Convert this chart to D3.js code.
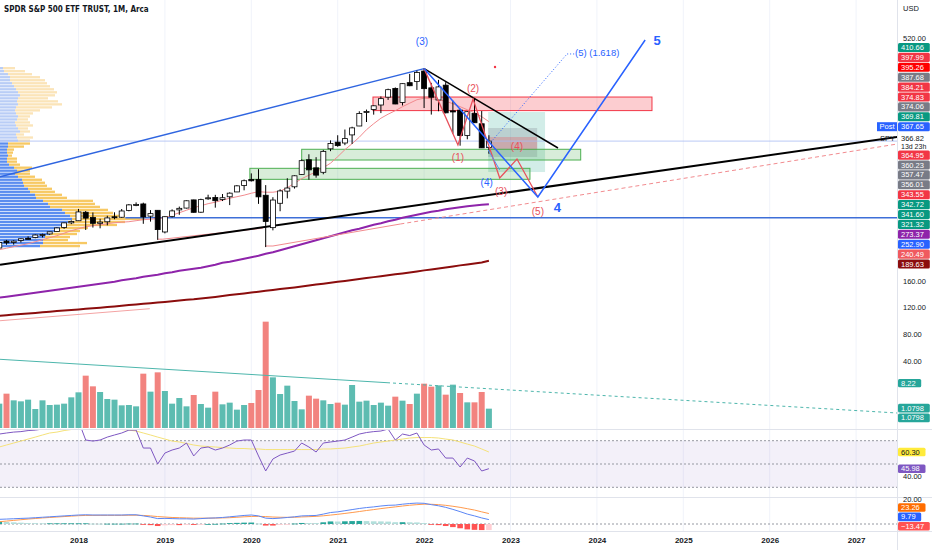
<!DOCTYPE html>
<html>
<head>
<meta charset="utf-8">
<script src="https://cdn.jsdelivr.net/npm/d3@7"></script>
<style>
  body { margin: 0; background: #ffffff; }
  svg { display: block; font-family: 'Liberation Sans', Arial, sans-serif; }
</style>
</head>
<body>
<svg id="chart" width="932" height="550"></svg>
<script>
'use strict';

// Monthly candles, Feb 2017 .. Oct 2022 (index 0 = 2017-02), dividend adjusted
var openPrices = [208.4,218.6,216.6,219.6,222.8,224.0,228.4,229.3,232.9,238.9,
    245.7,248.8,261.4,253.6,245.0,247.3,254.7,254.0,264.1,272.1,
    273.7,255.6,264.3,232.2,255.3,264.9,267.6,279.7,261.5,282.2,
    283.3,280.2,284.3,291.5,301.1,309.9,310.1,286.6,238.6,274.7,
    292.7,299.1,317.5,339.2,327.2,320.6,355.4,365.2,364.0,376.0,
    389.2,410.2,413.7,420.3,431.9,444.9,424.1,453.4,455.1,470.6,
    445.7,427.7,449.7,411.7,412.7,375.1,408.0,392.5,357.2];
var highPrices = [217.4,220.4,219.9,222.7,225.6,228.5,229.7,232.5,238.9,245.9,
    249.3,266.3,263.3,261.1,251.8,256.2,261.3,266.2,273.6,276.0,
    275.6,264.6,264.4,255.4,265.7,269.8,278.9,280.0,281.5,287.4,
    287.2,288.4,290.9,301.6,309.9,319.0,325.2,301.6,283.7,295.4,
    311.8,316.1,339.7,347.3,343.0,353.8,367.9,375.5,384.0,388.1,
    411.0,413.5,419.8,433.0,444.5,446.3,452.3,466.4,471.2,474.2,
    453.1,457.5,454.1,426.7,414.9,411.3,430.4,411.3,375.5];
var lowPrices = [207.7,213.2,213.4,216.6,221.0,222.9,224.1,228.2,232.7,236.9,
    243.8,248.4,235.2,238.7,237.6,242.0,251.0,253.0,262.8,270.4,
    244.3,247.5,220.5,230.1,253.7,257.7,267.0,260.9,260.5,279.9,
    268.2,278.0,272.0,291.3,293.9,306.9,273.8,209.8,234.6,262.9,
    282.0,296.5,316.9,309.6,312.6,317.7,351.9,358.4,360.8,362.6,
    389.0,395.1,406.0,408.3,427.8,421.5,419.6,448.2,442.6,415.8,
    406.1,411.0,407.9,377.8,360.0,369.5,393.8,356.6,348.1];
var closePrices = [216.6,216.1,218.6,222.1,222.7,227.7,228.4,232.4,238.2,245.7,
    247.7,261.9,252.7,245.0,246.8,253.0,253.7,263.3,272.3,273.0,
    254.4,259.4,235.7,254.8,263.4,267.2,278.4,261.3,280.1,282.8,
    278.5,282.9,289.7,300.5,308.1,308.0,284.2,247.7,279.5,293.0,
    297.3,315.4,337.8,324.2,316.4,351.6,363.4,360.1,370.5,386.4,
    407.7,410.8,419.1,429.7,443.0,421.8,451.9,448.8,468.4,444.5,
    431.8,447.1,408.7,410.0,375.0,410.4,394.0,356.8,366.8];
// volume, millions of shares
var volumes = [1217,1717,1383,1333,1417,950,1383,1150,1167,1217,
    1533,1783,2617,2083,1800,1450,1417,1133,1150,1083,
    2717,1817,2783,1850,1217,1500,1083,1650,1200,1017,
    1817,1183,1267,917,1150,1250,1900,5317,2533,1700,
    2117,1350,933,1617,1467,1383,1200,1267,1167,2150,
    1317,1367,1150,1267,1117,1567,1367,1200,1717,2217,
    2067,2133,1667,2167,1750,1283,1283,1800,967];
// moving averages drawn on price
var maShort = [205.9,208.1,210.4,212.6,214.8,217.8,220.7,223.7,226.7,230.4,
    234.1,237,240,241.5,243,244.4,245.9,246.7,247.4,248.9,
    250.4,251.1,251.9,253.3,257,260.7,264.4,268.1,271.1,274.1,
    276.3,279.3,282.2,284.4,286.7,289.6,291.9,291.1,291.1,292.6,
    297.8,304.4,311.1,316.3,321.5,327.4,334.1,343.7,354.1,363,
    372.6,383.7,392.6,400.7,406.7,411.9,417.8,423,428.1,430.4,
    429.6,428.1,425.9,422.2,417.8,413.3,408.9,403,395.6];
var maPurple = [134.8,136.3,137.8,139.3,140.7,142.2,143.7,145.2,146.7,148.1,
    149.6,151.1,152.6,154.1,155.6,157,158.5,160.7,162.2,163.7,
    165.9,167.4,168.9,171.1,172.6,174.8,176.3,177.8,179.3,181.5,
    183.7,186.7,188.1,190.4,192.6,194.8,197,200,202.2,205.2,
    208.1,211.1,214.1,217,220,223,225.9,228.9,231.9,234.8,
    237,240,243,245.2,248.1,250.4,253.3,255.6,257.8,260,
    262.2,263.7,265.9,267.4,268.9,270.4,271.3,272.4,273.4];
var maDarkRed = [108.1,108.9,109.8,110.7,111.4,112.3,113.2,114.1,115,115.7,
    116.6,117.5,118.4,119.1,120,121,121.9,123,123.9,124.9,
    125.8,126.7,127.7,128.6,129.6,130.5,131.6,132.4,133.5,134.8,
    136,137.3,138.7,139.9,141.2,142.5,143.7,145,146.2,147.6,
    148.9,150.1,151.4,152.9,154.2,155.6,157,158.4,159.7,161.2,
    162.5,163.9,165.3,166.7,168.1,169.5,170.8,172.3,173.8,175.3,
    176.7,178.2,179.7,181.2,182.7,184.1,185.6,187.1,189.6];
// RSI pane
var rsiValues = [75.7,76.6,77.4,77.8,78.7,79.1,80.0,81,83,85,
    85,87,70.6,69.7,70.6,73.1,74.9,76.6,79.1,79.1,
    63.7,63.7,50,59.4,62,63.7,68,56.9,63.7,64.6,
    62,63.7,66.3,69.7,70.6,70.6,56.9,44,54.3,57.7,
    59.4,61.1,68,64.6,60.3,68,68.9,69.7,70.6,73.1,
    75.7,77,77.8,78.3,80,70.6,75.7,74.4,76.6,66.3,
    62,62.9,55.1,55.1,47.4,55.1,52.6,44,45.98];
var rsiAverage = [64.6,66.3,68,69.7,71.4,73.1,74.9,76.6,77.4,78.7,
    79.6,80.4,80.9,80.9,80.4,80,80,79.6,79.1,78.3,
    76.6,74.9,73.1,71.4,69.7,68.9,67.6,66.3,65.4,65,
    64.6,64.1,63.7,63.3,63.3,62.9,62.9,62.4,62.4,62.4,
    62.4,62.4,62.4,62.4,62.4,62.9,62.9,63.3,63.7,64.6,
    65.4,66.7,68,68.9,69.7,70.6,71.4,72.3,72.7,72.7,
    72.7,72.3,71.4,70.6,68.9,67.1,65.4,62.9,60.3];
// MACD pane
var macdValues = [10.4,11,11.7,12.4,13,14,15,16,17,18,
    19,20,20.5,20,20,20,20,20,20.5,20.5,
    18,15.5,12,12.5,12,11.5,11.5,11,12,13,
    13.5,14.5,16,17.5,19,20,18,13,12,13,
    14.5,16,18,18.5,19,22,25.5,27,29.5,32,
    34.5,36.5,38,40,41.5,42,44,45.5,46.5,46,
    43,40.5,37,32.5,27.5,22,18,13.5,9.79];
var signalValues = [5,6.5,8,9.5,11,12.2,13.5,14.5,15.5,16.5,
    17.5,18.5,19,19.2,19.3,19.3,19.3,19.3,19.5,19.5,
    19,18,16.5,15.5,14.5,14,13.5,13,13,13,
    13.2,13.5,14,15,16,16.8,17,16.5,15.5,15,
    14.8,15,15.7,16.3,17,18.2,19.8,21.5,23.5,25.5,
    27.7,30,32,34.2,36.2,38,40,41.7,43,44,
    43.8,43,41.5,39.4,37,34,31,27,23.26];
var histValues = [5.4,4.5,3.7,2.9,2,1.8,1.5,1.5,1.5,1.5,
    1.5,1.5,1.5,0.8,0.7,0.7,0.7,0.7,1,1,
    -1,-2.5,-4.5,-3,-2.5,-2.5,-2,-2,-1,0,
    0.3,1,2,2.5,3,3.2,1,-3.5,-3.5,-2,
    -0.3,1,2.3,2.2,2,3.8,5.7,5.5,6,6.5,
    6.8,6.5,6,5.8,5.3,4,4,3.8,3.5,2,
    -0.8,-2.5,-4.5,-6.9,-9.5,-12,-13,-13.5,-13.47];
// visible range volume profile, rows from top price to bottom price
var profileHigh = 477;
var profileLow = 209;
var valueAreaHigh = 366;
var profileUp = [3,4,8,10,10,12,14,16,18,20, 18,17,18,16,15,16,18,17,15,16,
    18,20,16,17,18,8,8,7,7,8, 7,7,9,14,17,15,18,22,23,24,
    28,30,35,36,43,48,50,62,65,70, 72,68,66,60,55,50,45,43,43,40];
var profileDown = [12,21,24,30,35,35,36,38,39,35, 30,41,44,36,25,17,12,11,15,17,
    10,10,8,16,12,22,16,7,6,4, 10,10,11,18,13,15,17,20,22,23,
    24,25,27,31,50,47,50,46,48,55, 73,57,51,28,25,27,25,25,44,40];
// time axis
var yearLabels = ['2018','2019','2020','2021','2022','2023','2024','2025','2026','2027'];
var yearIndex = [11,23,35,47,59,71,83,95,107,119];

// drawings: [month index, price]
var blueTrend = [[0.1, 313.9], [59, 474.2]];
var blackFromTop = [[59, 474.2], [77.6, 356.6]];
var blackSupport = [[0.1, 183.6], [124.7, 373]];
var pinkSupport2018 = [[22, 221.5], [22.7, 221.5], [36.6, 237.8]];
var pinkSupport2020 = [[36.9, 211.4], [38, 211.4], [55.7, 244]];
var pinkSupportExt = [[55.7, 244], [124.7, 362.5]];
var pinkOld = [[0.1, 100.7], [20.9, 118.5]];
var blueLevel = [[17.5, 253.3], [124.7, 253.3]];
var lastPrice = 366.82;
var redWave = [[59, 474.2], [63.7, 361], [65.8, 429.2], [69.5, 312.1], [71.9, 340.3], [74.8, 284]];
var blueWave = [[59, 474.2], [74.8, 284], [89.7, 516.6]];
var blueProjection = [[67.7, 358.1], [78.85, 495.9], [80, 495.9]];
var blueSubWave = [[67.9, 353.7], [69.5, 324.1]];
var redDot = [68.85, 476.6];
var redZone = [51.9, 90.65, 412.0, 432.1];
var greenZones = [[42, 80.75, 338.8, 354.7], [34.8, 73.7, 310.2, 326.5]];
var positionTeal = [67.9, 75.8, 321.0, 409.9];
var positionGrey = [67.9, 74.7, 343.3, 386.2];
var positionRed = [67.9, 74.7, 353.6, 372.9];
var volumeTrend = [[0.1, 3435], [53.85, 2265]];
var volumeTrendExt = [[53.85, 2265], [124.7, 750]];
var waveLabels = [
    {text: '(3)', m: 58.7, p: 513.8, color: '#2962ff'},
    {text: '(1)', m: 63.7, p: 341.8, color: '#e8505b'},
    {text: '(2)', m: 65.8, p: 444, color: '#e8505b'},
    {text: '(3)', m: 69.7, p: 291.6, color: '#e8505b'},
    {text: '(4)', m: 71.9, p: 358.1, color: '#e8505b'},
    {text: '(5)', m: 74.8, p: 261.8, color: '#e8505b'},
    {text: '(4)', m: 67.7, p: 304.6, color: '#2962ff'}
];
var bigLabels = [{text: '4', m: 77.5, p: 267.6}, {text: '5', m: 91.35, p: 513.8}];
var fibLabel = {text: '(5) (1.618)', m: 79.96, p: 495.9};

// price scale badges
var priceBadges = [
    {v: 410.66, c: '#089981'}, {v: 397.99, c: '#f23645'}, {v: 395.26, c: '#ff0000'},
    {v: 387.68, c: '#787b86'}, {v: 384.21, c: '#f23645'}, {v: 374.83, c: '#f23645'},
    {v: 374.06, c: '#787b86'}, {v: 369.81, c: '#089981'}, {v: 367.65, c: '#2962ff', post: true},
    {v: 366.82, last: true},
    {v: 364.95, c: '#f23645'}, {v: 360.23, c: '#787b86'}, {v: 357.47, c: '#787b86'},
    {v: 356.01, c: '#787b86'}, {v: 343.55, c: '#f23645'}, {v: 342.72, c: '#089981'},
    {v: 341.60, c: '#089981'}, {v: 321.32, c: '#089981'}, {v: 273.37, c: '#8e24aa'},
    {v: 252.90, c: '#2962ff'}, {v: 240.49, c: '#f05a5f'}, {v: 189.63, c: '#8b0d0d'}
];

var width = 932;
var plotRight = 897;
var mainBottom = 429;
var rsiBottom = 497;
var macdBottom = 531;
var n = closePrices.length;

var svg = d3.select('#chart');

var x = d3.scaleLinear().domain([0, 119]).range([-0.7, 856.1]);
var y = d3.scaleLinear().domain([160, 520]).range([280.7, 37.7]);
var yVol = d3.scaleLinear().domain([0, 5400]).range([428, 320]);
var yVolAxis = d3.scaleLinear().domain([0, 120]).range([388.7, 307.3]);
var yRsi = d3.scaleLinear().domain([30, 70]).range([487.3, 440.7]);
var yMacd = d3.scaleLinear().domain([0, 40]).range([524, 506]);
var xProfile = d3.scaleLinear().domain([0, 100]).range([0, 100]);

var lineXY = d3.line().x(function(d) { return x(d[0]); }).y(function(d) { return y(d[1]); });
var lineVol = d3.line().x(function(d) { return x(d[0]); }).y(function(d) { return yVol(d[1]); });

/**
 * Series line helper, one value per month
 */
var seriesLine = function(scale) {
    return d3.line().x(function(d, i) { return x(i); }).y(function(d) { return scale(d); });
};

// clip paths for panes
var defs = svg.append('defs');
[['clipMain', 0, mainBottom], ['clipRsi', mainBottom, rsiBottom], ['clipMacd', rsiBottom, macdBottom]]
    .forEach(function(c) {
        defs.append('clipPath').attr('id', c[0]).append('rect')
            .attr('x', 0).attr('y', c[1]).attr('width', plotRight).attr('height', c[2] - c[1]);
    });

// year grid
svg.append('g').selectAll('line').data(yearIndex).enter().append('line')
    .attr('x1', function(d) { return x(d); }).attr('x2', function(d) { return x(d); })
    .attr('y1', 0).attr('y2', macdBottom)
    .style('stroke', '#f0f3fa').style('stroke-width', 1);

var main = svg.append('g').attr('clip-path', 'url(#clipMain)');

// volume
main.append('g').selectAll('rect').data(volumes).enter().append('rect')
    .attr('x', function(d, i) { return x(i) - 3; })
    .attr('width', 6)
    .attr('y', function(d) { return yVol(d); })
    .attr('height', function(d) { return yVol(0) - yVol(d); })
    .style('fill', function(d, i) {
        return (i === 0 || closePrices[i] >= closePrices[i - 1]) ? '#5dbcb1' : '#f2837f';
    });
main.append('path').datum(volumeTrend).attr('d', lineVol)
    .style('fill', 'none').style('stroke', '#4db6ac').style('stroke-width', 1);
main.append('path').datum(volumeTrendExt).attr('d', lineVol)
    .style('fill', 'none').style('stroke', '#4db6ac').style('stroke-width', 1)
    .style('stroke-dasharray', '3,3');

// volume profile
var rowStep = (profileHigh - profileLow) / profileUp.length;
var profile = main.append('g');
profileUp.forEach(function(up, i) {
    var top = profileHigh - i * rowStep;
    var yTop = y(top) + 0.3;
    var h = y(top - rowStep) - y(top) - 0.7;
    var inValue = (top - rowStep / 2) <= valueAreaHigh;
    profile.append('rect')
        .attr('x', 0).attr('y', yTop).attr('width', xProfile(up)).attr('height', h)
        .style('fill', inValue ? '#5b8def' : '#b9cdf6');
    profile.append('rect')
        .attr('x', xProfile(up)).attr('y', yTop).attr('width', xProfile(profileDown[i])).attr('height', h)
        .style('fill', inValue ? '#f7c964' : '#fbe4b8');
});

// zones
var zoneRect = function(z, fill, stroke) {
    main.append('rect')
        .attr('x', x(z[0])).attr('y', y(z[3]))
        .attr('width', x(z[1]) - x(z[0])).attr('height', y(z[2]) - y(z[3]))
        .style('fill', fill).style('stroke', stroke || 'none').style('stroke-width', 1);
};
zoneRect(positionTeal, 'rgba(8,153,129,0.18)');
zoneRect(positionGrey, 'rgba(120,123,134,0.25)');
zoneRect(positionRed, 'rgba(242,54,69,0.25)');
zoneRect(redZone, 'rgba(242,54,69,0.25)', '#f23645');
greenZones.forEach(function(z) { zoneRect(z, 'rgba(76,175,80,0.22)', '#4caf50'); });

// horizontal lines
main.append('line')
    .attr('x1', 0).attr('x2', plotRight).attr('y1', y(lastPrice)).attr('y2', y(lastPrice))
    .style('stroke', '#a9bdf3').style('stroke-width', 0.8);
main.append('path').datum(blueLevel).attr('d', lineXY)
    .style('fill', 'none').style('stroke', '#3e6fd8').style('stroke-width', 1.6);

// moving averages
main.append('path').datum(maDarkRed).attr('d', seriesLine(y))
    .style('fill', 'none').style('stroke', '#8b0d0d').style('stroke-width', 2);
main.append('path').datum(pinkOld).attr('d', lineXY)
    .style('fill', 'none').style('stroke', '#f4a3a3').style('stroke-width', 1);
main.append('path').datum(maPurple).attr('d', seriesLine(y))
    .style('fill', 'none').style('stroke', '#8e24aa').style('stroke-width', 2);
main.append('path').datum(maShort).attr('d', seriesLine(y))
    .style('fill', 'none').style('stroke', '#f28b8f').style('stroke-width', 1);

// trend lines
[pinkSupport2018, pinkSupport2020].forEach(function(l) {
    main.append('path').datum(l).attr('d', lineXY)
        .style('fill', 'none').style('stroke', '#f28b8f').style('stroke-width', 1);
});
main.append('path').datum(pinkSupportExt).attr('d', lineXY)
    .style('fill', 'none').style('stroke', '#f28b8f').style('stroke-width', 1)
    .style('stroke-dasharray', '4,3');
main.append('path').datum(blackSupport).attr('d', lineXY)
    .style('fill', 'none').style('stroke', '#000').style('stroke-width', 2);
main.append('path').datum(blueTrend).attr('d', lineXY)
    .style('fill', 'none').style('stroke', '#2f65e0').style('stroke-width', 1.5);

// candles
var candles = main.append('g').selectAll('g').data(d3.range(n)).enter().append('g');
candles.append('line')
    .attr('x1', function(i) { return x(i); }).attr('x2', function(i) { return x(i); })
    .attr('y1', function(i) { return y(highPrices[i]); })
    .attr('y2', function(i) { return y(lowPrices[i]); })
    .style('stroke', '#000').style('stroke-width', 1);
candles.append('rect')
    .attr('x', function(i) { return x(i) - 2.5; })
    .attr('width', 5)
    .attr('y', function(i) { return y(Math.max(openPrices[i], closePrices[i])); })
    .attr('height', function(i) {
        return Math.max(1, Math.abs(y(openPrices[i]) - y(closePrices[i])));
    })
    .style('fill', function(i) { return closePrices[i] >= openPrices[i] ? '#ffffff' : '#000000'; })
    .style('stroke', '#000').style('stroke-width', 0.8);

// wave drawings
main.append('path').datum(blackFromTop).attr('d', lineXY)
    .style('fill', 'none').style('stroke', '#000').style('stroke-width', 1.5);
main.append('path').datum(redWave).attr('d', lineXY)
    .style('fill', 'none').style('stroke', '#e8505b').style('stroke-width', 1.3);
main.append('path').datum(blueWave).attr('d', lineXY)
    .style('fill', 'none').style('stroke', '#2962ff').style('stroke-width', 1.5);
main.append('path').datum(blueSubWave).attr('d', lineXY)
    .style('fill', 'none').style('stroke', '#5a8cf0').style('stroke-width', 1);
main.append('path').datum(blueProjection).attr('d', lineXY)
    .style('fill', 'none').style('stroke', '#2962ff').style('stroke-width', 1)
    .style('stroke-dasharray', '1,2');
main.append('circle').attr('cx', x(redDot[0])).attr('cy', y(redDot[1])).attr('r', 1.2)
    .style('fill', '#f23645');

main.selectAll('text.wave').data(waveLabels).enter().append('text')
    .attr('class', 'wave')
    .attr('x', function(d) { return x(d.m); }).attr('y', function(d) { return y(d.p); })
    .attr('text-anchor', 'middle').attr('dominant-baseline', 'middle')
    .style('font-size', '10px').style('fill', function(d) { return d.color; })
    .text(function(d) { return d.text; });
main.selectAll('text.big').data(bigLabels).enter().append('text')
    .attr('class', 'big')
    .attr('x', function(d) { return x(d.m); }).attr('y', function(d) { return y(d.p); })
    .attr('text-anchor', 'middle').attr('dominant-baseline', 'middle')
    .style('font-size', '13px').style('font-weight', 'bold').style('fill', '#2962ff')
    .text(function(d) { return d.text; });
main.append('text')
    .attr('x', x(fibLabel.m)).attr('y', y(fibLabel.p))
    .attr('dominant-baseline', 'middle')
    .style('font-size', '9.5px').style('fill', '#2962ff')
    .text(fibLabel.text);

// RSI pane
var rsiPane = svg.append('g').attr('clip-path', 'url(#clipRsi)');
rsiPane.append('rect')
    .attr('x', 0).attr('width', plotRight)
    .attr('y', yRsi(70)).attr('height', yRsi(30) - yRsi(70))
    .style('fill', 'rgba(126,87,194,0.09)');
rsiPane.selectAll('line').data([70, 50, 30]).enter().append('line')
    .attr('x1', 0).attr('x2', plotRight)
    .attr('y1', function(d) { return yRsi(d); }).attr('y2', function(d) { return yRsi(d); })
    .style('stroke', '#9598a1').style('stroke-width', 1).style('stroke-dasharray', '2,2');
rsiPane.append('path').datum(rsiAverage).attr('d', seriesLine(yRsi))
    .style('fill', 'none').style('stroke', '#f5e27a').style('stroke-width', 1);
rsiPane.append('path').datum(rsiValues).attr('d', seriesLine(yRsi))
    .style('fill', 'none').style('stroke', '#7e57c2').style('stroke-width', 1);

// MACD pane
var macdPane = svg.append('g').attr('clip-path', 'url(#clipMacd)');
macdPane.append('line')
    .attr('x1', 0).attr('x2', plotRight).attr('y1', yMacd(0)).attr('y2', yMacd(0))
    .style('stroke', '#9598a1').style('stroke-width', 1).style('stroke-dasharray', '2,2');
macdPane.selectAll('rect').data(histValues).enter().append('rect')
    .attr('x', function(d, i) { return x(i) - 2.8; })
    .attr('width', 5.6)
    .attr('y', function(d) { return Math.min(yMacd(d), yMacd(0)); })
    .attr('height', function(d) { return Math.max(0.8, Math.abs(yMacd(d) - yMacd(0))); })
    .style('fill', function(d, i) {
        var prev = i > 0 ? histValues[i - 1] : d;
        if (d >= 0) {
            return d >= prev ? '#26a69a' : '#b2dfdb';
        }
        return d <= prev ? '#ff5252' : '#ffcdd2';
    });
macdPane.append('path').datum(signalValues).attr('d', seriesLine(yMacd))
    .style('fill', 'none').style('stroke', '#ff9a4d').style('stroke-width', 1);
macdPane.append('path').datum(macdValues).attr('d', seriesLine(yMacd))
    .style('fill', 'none').style('stroke', '#5b86f5').style('stroke-width', 1);

// pane separators and axis border
[mainBottom, rsiBottom, macdBottom].forEach(function(v) {
    svg.append('line').attr('x1', 0).attr('x2', width).attr('y1', v + 0.5).attr('y2', v + 0.5)
        .style('stroke', '#e0e3eb').style('stroke-width', 1);
});
svg.append('line').attr('x1', plotRight + 0.5).attr('x2', plotRight + 0.5).attr('y1', 0).attr('y2', 550)
    .style('stroke', '#e0e3eb').style('stroke-width', 1);

// time axis
var timeAxis = svg.append('g')
    .attr('transform', 'translate(0,' + macdBottom + ')')
    .call(d3.axisBottom(x).tickValues(yearIndex).tickSize(0).tickPadding(6)
        .tickFormat(function(d, i) { return yearLabels[i]; }));
timeAxis.select('.domain').remove();
timeAxis.selectAll('text')
    .style('font-family', "'Liberation Sans', Arial, sans-serif")
    .style('font-size', '8px').style('font-weight', 'bold').style('fill', '#131722');

/**
 * Right side tick labels for a scale
 */
var drawTicks = function(scale, values) {
    var g = svg.append('g')
        .attr('transform', 'translate(' + (plotRight + 1) + ',0)')
        .call(d3.axisRight(scale).tickValues(values).tickSize(0).tickPadding(5)
            .tickFormat(d3.format('.2f')));
    g.select('.domain').remove();
    g.selectAll('text')
        .style('font-family', "'Liberation Sans', Arial, sans-serif")
        .style('font-size', '7.5px').style('fill', '#131722');
};
drawTicks(y, [160, 520]);
drawTicks(yVolAxis, [40, 80, 120]);
drawTicks(yRsi, [20, 40]);

svg.append('text').attr('x', 903).attr('y', 11)
    .style('font-size', '7.5px').style('fill', '#131722').text('USD');

/**
 * Stack labels so they do not overlap, keeping them near their values
 */
var stackLabels = function(items, minY, maxY) {
    var clusters = [];
    var place = function(c) {
        var sum = 0;
        var off = 0;
        c.items.forEach(function(it) {
            sum += it.want - off - it.h / 2;
            off += it.h;
        });
        c.height = off;
        c.top = sum / c.items.length;
        c.top = Math.max(minY, Math.min(maxY - c.height, c.top));
    };
    items.slice().sort(function(a, b) { return a.want - b.want; }).forEach(function(it) {
        var c = {items: [it]};
        place(c);
        clusters.push(c);
        while (clusters.length > 1) {
            var last = clusters[clusters.length - 1];
            var prev = clusters[clusters.length - 2];
            if (prev.top + prev.height <= last.top) {
                break;
            }
            prev.items = prev.items.concat(last.items);
            clusters.pop();
            place(prev);
        }
    });
    clusters.forEach(function(c) {
        var off = c.top;
        c.items.forEach(function(it) {
            it.y = off + it.h / 2;
            off += it.h;
        });
    });
    return items;
};

var drawBadge = function(label, cy, fill, textColor, h) {
    var w = label.length * 4.3 + 6;
    svg.append('rect')
        .attr('x', plotRight + 1).attr('y', cy - h / 2 + 0.4)
        .attr('width', w).attr('height', h - 0.8)
        .attr('rx', 1.5)
        .style('fill', fill);
    svg.append('text')
        .attr('x', plotRight + 4).attr('y', cy)
        .attr('dominant-baseline', 'central')
        .style('font-size', '7.5px').style('fill', textColor)
        .text(label);
};

var priceItems = stackLabels(priceBadges.map(function(b) {
    return {b: b, want: y(b.v), h: b.last ? 18.5 : 9.9};
}), 40, mainBottom);
priceItems.forEach(function(it) {
    if (it.b.last) {
        svg.append('text').attr('x', plotRight + 4).attr('y', it.y - 2.5)
            .attr('dominant-baseline', 'central')
            .style('font-size', '7.5px').style('fill', '#131722').text(it.b.v.toFixed(2));
        svg.append('text').attr('x', plotRight + 4).attr('y', it.y + 5.5)
            .attr('dominant-baseline', 'central')
            .style('font-size', '7px').style('fill', '#131722').text('13d 23h');
        svg.append('text').attr('x', plotRight - 17).attr('y', it.y - 2)
            .attr('dominant-baseline', 'central')
            .style('font-size', '7.5px').style('fill', '#131722').text('SPY');
        return;
    }
    drawBadge(it.b.v.toFixed(2), it.y, it.b.c, '#ffffff', it.h);
    if (it.b.post) {
        svg.append('rect').attr('x', plotRight - 20).attr('y', it.y - 4.5)
            .attr('width', 20).attr('height', 9).style('fill', '#2962ff');
        svg.append('text').attr('x', plotRight - 10).attr('y', it.y)
            .attr('text-anchor', 'middle').attr('dominant-baseline', 'central')
            .style('font-size', '7.5px').style('fill', '#ffffff').text('Post');
    }
});

// volume pane badges
drawBadge('8.22', yVolAxis(8.22), '#26a69a', '#ffffff', 9);
var trendEnd = volumeTrendExt[volumeTrendExt.length - 1][1];
stackLabels([{want: yVol(trendEnd), h: 9.6}, {want: yVol(trendEnd), h: 9.6}], 390, mainBottom)
    .forEach(function(it) { drawBadge('1.0798', it.y, '#26a69a', '#ffffff', it.h); });

// RSI badges
drawBadge(rsiAverage[n - 1].toFixed(2), yRsi(rsiAverage[n - 1]), '#ffeb3b', '#131722', 9.4);
drawBadge(rsiValues[n - 1].toFixed(2), yRsi(rsiValues[n - 1]), '#7e57c2', '#ffffff', 9.4);

// MACD badges
var macdItems = [
    {label: signalValues[n - 1].toFixed(2), c: '#ff6d00', want: yMacd(signalValues[n - 1]), h: 9.4},
    {label: macdValues[n - 1].toFixed(2), c: '#2962ff', want: yMacd(macdValues[n - 1]), h: 9.4},
    {label: histValues[n - 1].toFixed(2).replace('-', '\u2212'), c: '#ff5252', want: yMacd(histValues[n - 1]), h: 9.4}
];
stackLabels(macdItems, rsiBottom, macdBottom).forEach(function(it) {
    drawBadge(it.label, it.y, it.c, '#ffffff', it.h);
});

// title
svg.append('text').attr('x', 4).attr('y', 12)
    .style('font-family', "'Liberation Sans Narrow', 'DejaVu Sans Condensed', 'Liberation Sans', sans-serif")
    .style('font-size', '8px').style('font-weight', 'bold').style('fill', '#131722')
    .text('SPDR S&P 500 ETF TRUST, 1M, Arca');
</script>
</body>
</html>
